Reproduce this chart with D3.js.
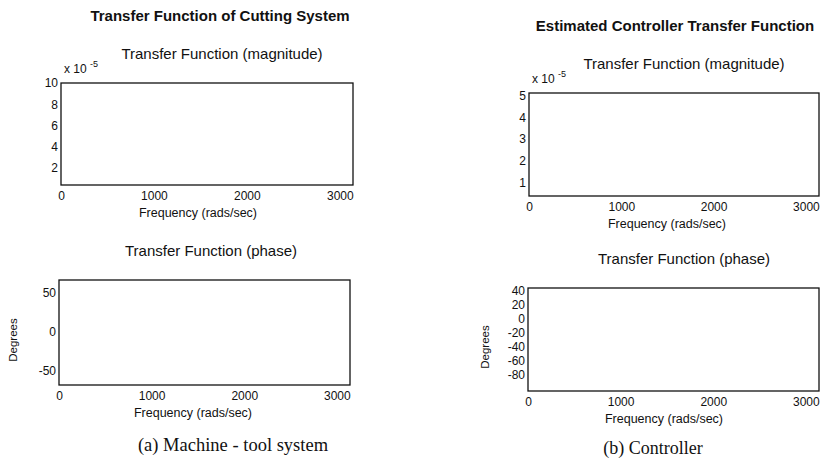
<!DOCTYPE html>
<html>
<head>
<meta charset="utf-8">
<script src="https://cdn.jsdelivr.net/npm/d3@7"></script>
<style>
  body { margin: 0; background: #fff; }
  svg text { font-family: "Liberation Sans", Arial, sans-serif; fill: #111; }
  .caption { font-family: "Liberation Serif", "Times New Roman", serif; }
</style>
</head>
<body>
<div id="chart"></div>
<script>
(function() {
  'use strict';

  // values
  var freqTicks = [0, 1000, 2000, 3000];
  var freqDomain = [0, 3142];

  var cutMagTicks = [2, 4, 6, 8, 10];
  var cutMagDomain = [0.37, 10];
  var cutPhaseTicks = [-50, 0, 50];
  var cutPhaseDomain = [-69, 67];

  var ctlMagTicks = [1, 2, 3, 4, 5];
  var ctlMagDomain = [0.36, 5.14];
  var ctlPhaseTicks = [-80, -60, -40, -20, 0, 20, 40];
  var ctlPhaseDomain = [-103, 44];

  var width = 821;
  var height = 460;

  // plain hyphen for negatives, like the original print
  var fmt = function (d) { return String(d); };

  var svg = d3.select("#chart")
    .append("svg")
    .attr("width", width)
    .attr("height", height);

  function styleTicks(a) {
    a.select(".domain").remove();
    a.selectAll("text")
      .style("font-size", "12px")
      .style("font-family", "'Liberation Sans', Arial, sans-serif")
      .attr("fill", "#111");
  }

  function panel(opt) {
    var g = svg.append("g");

    var x = d3.scaleLinear()
      .domain(freqDomain)
      .range([opt.left, opt.right]);

    var y = d3.scaleLinear()
      .domain(opt.yDomain)
      .range([opt.bottom, opt.top]);

    g.append("g")
      .attr("transform", "translate(" + opt.left + ",0)")
      .call(d3.axisLeft(y).tickValues(opt.yTicks).tickSize(0).tickPadding(3).tickFormat(fmt))
      .call(styleTicks);

    g.append("g")
      .attr("transform", "translate(0," + opt.bottom + ")")
      .call(d3.axisBottom(x).tickValues(freqTicks).tickSize(0).tickPadding(6).tickFormat(fmt))
      .call(styleTicks);

    // frame
    g.append("rect")
      .attr("x", x(freqDomain[0]))
      .attr("y", y(opt.yDomain[1]))
      .attr("width", x(freqDomain[1]) - x(freqDomain[0]))
      .attr("height", y(opt.yDomain[0]) - y(opt.yDomain[1]))
      .attr("fill", "none")
      .attr("stroke", "#111")
      .attr("stroke-width", 1.3);

    g.append("text")
      .attr("x", opt.titleX)
      .attr("y", opt.top - 24)
      .attr("text-anchor", "middle")
      .style("font-size", "15px")
      .text(opt.title);

    g.append("text")
      .attr("x", opt.freqX)
      .attr("y", opt.bottom + 32)
      .attr("text-anchor", "middle")
      .style("font-size", "12.5px")
      .text("Frequency (rads/sec)");

    if (opt.exponent) {
      var t = g.append("text")
        .attr("x", opt.left + 3)
        .attr("y", opt.top - 10)
        .style("font-size", "12px")
        .text("x 10 ");
      t.append("tspan")
        .attr("dy", -6)
        .style("font-size", "9px")
        .text("-5");
    }

    if (opt.degreesX) {
      g.append("text")
        .attr("transform", "translate(" + opt.degreesX + "," + opt.degreesY + ") rotate(-90)")
        .attr("text-anchor", "middle")
        .style("font-size", "11.5px")
        .text("Degrees");
    }
  }

  panel({ left: 61, right: 353, top: 83, bottom: 185,
    yDomain: cutMagDomain, yTicks: cutMagTicks,
    title: "Transfer Function (magnitude)", titleX: 222, freqX: 198, exponent: true });

  panel({ left: 59, right: 350, top: 280, bottom: 385,
    yDomain: cutPhaseDomain, yTicks: cutPhaseTicks,
    title: "Transfer Function (phase)", titleX: 211, freqX: 193,
    degreesX: 17, degreesY: 340 });

  panel({ left: 529, right: 819, top: 93, bottom: 196,
    yDomain: ctlMagDomain, yTicks: ctlMagTicks,
    title: "Transfer Function (magnitude)", titleX: 684, freqX: 667, exponent: true });

  panel({ left: 528, right: 819, top: 288, bottom: 391,
    yDomain: ctlPhaseDomain, yTicks: ctlPhaseTicks,
    title: "Transfer Function (phase)", titleX: 684, freqX: 664,
    degreesX: 489, degreesY: 347 });

  // main headings
  svg.append("text")
    .attr("x", 220).attr("y", 21)
    .attr("text-anchor", "middle")
    .style("font-size", "15px")
    .style("font-weight", "bold")
    .text("Transfer Function of Cutting System");

  svg.append("text")
    .attr("x", 675).attr("y", 31)
    .attr("text-anchor", "middle")
    .style("font-size", "15px")
    .style("font-weight", "bold")
    .text("Estimated Controller Transfer Function");

  // captions
  svg.append("text")
    .attr("class", "caption")
    .attr("x", 233).attr("y", 451)
    .attr("text-anchor", "middle")
    .style("font-size", "18.5px")
    .text("(a) Machine - tool system");

  svg.append("text")
    .attr("class", "caption")
    .attr("x", 653).attr("y", 454)
    .attr("text-anchor", "middle")
    .style("font-size", "18px")
    .text("(b) Controller");
})();
</script>
</body>
</html>
